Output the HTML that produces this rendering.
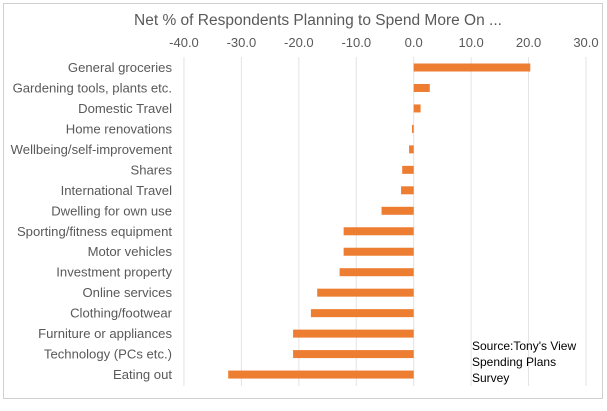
<!DOCTYPE html>
<html><head><meta charset="utf-8"><style>
body{margin:0;background:#fff;width:607px;height:406px;overflow:hidden;font-family:"Liberation Sans",sans-serif}
</style></head><body>
<svg width="607" height="406">
<rect x="3.5" y="3.5" width="599" height="395" fill="#fff" stroke="#d0d0d0"/>
<text x="318" y="25" text-anchor="middle" font-size="15.5" fill="#595959">Net % of Respondents Planning to Spend More On ...</text>
<g id="grid"></g><g id="bars"></g><g id="labels"></g>
<text x="472" y="350" font-size="12" fill="#000"><tspan x="472">Source:Tony's View</tspan><tspan x="472" dy="16">Spending  Plans</tspan><tspan x="472" dy="16">Survey</tspan></text>
</svg>
<script>
const categories=["General groceries","Gardening tools, plants etc.","Domestic Travel","Home renovations","Wellbeing/self-improvement","Shares","International Travel","Dwelling for own use","Sporting/fitness equipment","Motor vehicles","Investment property","Online services","Clothing/footwear","Furniture or appliances","Technology (PCs etc.)","Eating out"];
const values=[20.3,2.8,1.2,-0.3,-0.8,-2.0,-2.2,-5.6,-12.2,-12.2,-12.9,-16.8,-17.9,-21.0,-21.0,-32.3];
const ticks=[-40,-30,-20,-10,0,10,20,30];
const NS="http://www.w3.org/2000/svg";
const x=v=>413.7+v*5.743;
const y=i=>67.5+i*20.47;
const grid=document.getElementById('grid'),bars=document.getElementById('bars'),labels=document.getElementById('labels');
ticks.forEach(t=>{
 const l=document.createElementNS(NS,'line');
 l.setAttribute('x1',x(t));l.setAttribute('x2',x(t));l.setAttribute('y1',57);l.setAttribute('y2',386);
 l.setAttribute('stroke','#e3e3e3');
 
 
 grid.appendChild(l);
 const tx=document.createElementNS(NS,'text');
 tx.setAttribute('x',x(t));tx.setAttribute('y',47);tx.setAttribute('text-anchor','middle');
 tx.setAttribute('font-size','13');tx.setAttribute('fill','#595959');
 tx.textContent=t.toFixed(1);
 
 
 grid.appendChild(tx);
});
categories.forEach((c,i)=>{
 const v=values[i];
 const r=document.createElementNS(NS,'rect');
 r.setAttribute('x',Math.min(x(0),x(v)));r.setAttribute('width',Math.abs(x(v)-x(0)));
 r.setAttribute('y',y(i)-4);r.setAttribute('height',8);r.setAttribute('fill','#ed7d31');
 
 
 bars.appendChild(r);
 const t=document.createElementNS(NS,'text');
 t.setAttribute('x',172);t.setAttribute('y',y(i)+4.5);t.setAttribute('text-anchor','end');
 t.setAttribute('font-size','13.1');t.setAttribute('fill','#595959');
 t.textContent=c;
 
 
 labels.appendChild(t);
});
</script>
</body></html>
